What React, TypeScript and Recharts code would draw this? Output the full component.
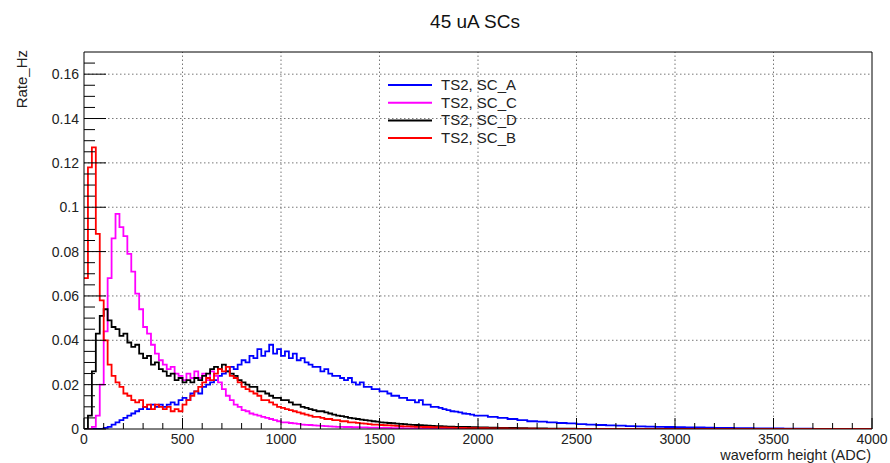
import React from 'react';
import { LineChart, Line, XAxis, YAxis, ReferenceLine } from 'recharts';

// ---------- data (bin lower edges in ADC, rate in Hz) ----------
// fine bins: 0..1980 step 20 ; tail bins: 2000..4000 step 50
const fineEdges: number[] = Array.from({ length: 100 }, (_, i) => i * 20);
const tailEdges: number[] = Array.from({ length: 41 }, (_, i) => 2000 + i * 50);

const scA_fine = [
  0, 0, 0, 0, 0, 0.0005, 0.001, 0.002, 0.003, 0.004,
  0.005, 0.006, 0.007, 0.008, 0.009, 0.010, 0.009, 0.011, 0.010, 0.011,
  0.010, 0.011, 0.012, 0.011, 0.013, 0.014, 0.013, 0.016, 0.017, 0.016,
  0.019, 0.020, 0.021, 0.022, 0.024, 0.025, 0.026, 0.028, 0.027, 0.029,
  0.031, 0.030, 0.033, 0.032, 0.036, 0.033, 0.035, 0.038, 0.034, 0.036,
  0.033, 0.035, 0.032, 0.034, 0.031, 0.032, 0.030, 0.029, 0.028, 0.028,
  0.026, 0.027, 0.025, 0.024, 0.024, 0.023, 0.022, 0.023, 0.021, 0.020,
  0.021, 0.019, 0.019, 0.018, 0.018, 0.017, 0.017, 0.016, 0.015, 0.015,
  0.014, 0.014, 0.013, 0.013, 0.012, 0.013, 0.011, 0.011, 0.010, 0.010,
  0.0095, 0.009, 0.0085, 0.008, 0.0078, 0.0075, 0.007, 0.0068, 0.0065, 0.006,
];
const scA_tail = [
  0.006, 0.0055, 0.005, 0.0045, 0.004, 0.0035, 0.0033, 0.003, 0.0027, 0.0025,
  0.0022, 0.002, 0.0018, 0.0016, 0.0015, 0.0013, 0.0012, 0.0011, 0.001, 0.0009,
  0.0008, 0.0007, 0.0007, 0.0006, 0.0005, 0.0005, 0.0004, 0.0004, 0.0003, 0.0003,
  0.0003, 0.0002, 0.0002, 0.0002, 0.0001, 0.0001, 0.0001, 0.0001, 0, 0, 0,
];

const scC_fine = [
  0, 0, 0.001, 0.006, 0.020, 0.044, 0.068, 0.086, 0.097, 0.091,
  0.087, 0.079, 0.071, 0.061, 0.054, 0.046, 0.043, 0.038, 0.034, 0.031,
  0.029, 0.027, 0.028, 0.025, 0.024, 0.022, 0.025, 0.023, 0.026, 0.023,
  0.025, 0.022, 0.026, 0.024, 0.021, 0.018, 0.015, 0.013, 0.011, 0.010,
  0.0085, 0.008, 0.007, 0.0065, 0.006, 0.0055, 0.005, 0.0045, 0.004, 0.0035,
  0.003, 0.003, 0.0027, 0.0025, 0.0023, 0.002, 0.0019, 0.0018, 0.0016, 0.0015,
  0.0014, 0.0013, 0.0012, 0.0011, 0.001, 0.001, 0.0009, 0.0009, 0.0008, 0.0008,
  0.0007, 0.0007, 0.0006, 0.0006, 0.0006, 0.0005, 0.0005, 0.0005, 0.0004, 0.0004,
  0.0004, 0.0003, 0.0003, 0.0003, 0.0003, 0.0003, 0.0003, 0.0002, 0.0002, 0.0002,
  0.0002, 0.0002, 0.0002, 0.0002, 0.0002, 0.0002, 0.0002, 0.0002, 0.0002, 0.0002,
];
const scC_tail = [
  0.0002, 0.0002, 0.0001, 0.0001, 0.0001, 0.0001, 0.0001, 0.0001, 0.0001, 0.0001,
  0.0001, 0.0001, 0, 0, 0, 0, 0, 0, 0, 0,
  0, 0, 0, 0, 0, 0, 0, 0, 0, 0,
  0, 0, 0, 0, 0, 0, 0, 0, 0, 0, 0,
];

const scD_fine = [
  0, 0.006, 0.026, 0.043, 0.051, 0.054, 0.049, 0.046, 0.045, 0.042,
  0.043, 0.039, 0.037, 0.038, 0.034, 0.032, 0.033, 0.029, 0.030, 0.027,
  0.026, 0.024, 0.025, 0.022, 0.023, 0.021, 0.022, 0.021, 0.023, 0.022,
  0.024, 0.025, 0.027, 0.028, 0.027, 0.029, 0.026, 0.025, 0.024, 0.022,
  0.021, 0.020, 0.019, 0.019, 0.017, 0.017, 0.016, 0.015, 0.014, 0.014,
  0.013, 0.013, 0.012, 0.011, 0.011, 0.010, 0.0095, 0.009, 0.0085, 0.008,
  0.008, 0.0075, 0.007, 0.0065, 0.006, 0.0058, 0.0055, 0.005, 0.0048, 0.0045,
  0.0042, 0.004, 0.0038, 0.0035, 0.0033, 0.003, 0.0029, 0.0027, 0.0026, 0.0024,
  0.0023, 0.0022, 0.002, 0.0019, 0.0018, 0.0017, 0.0016, 0.0015, 0.0014, 0.0013,
  0.0013, 0.0012, 0.0011, 0.0011, 0.001, 0.001, 0.0009, 0.0009, 0.0008, 0.0008,
];
const scD_tail = [
  0.0007, 0.0006, 0.0005, 0.0005, 0.0004, 0.0003, 0.0003, 0.0002, 0.0002, 0.0002,
  0.0001, 0.0001, 0.0001, 0.0001, 0.0001, 0, 0, 0, 0, 0,
  0, 0, 0, 0, 0, 0, 0, 0, 0, 0,
  0, 0, 0, 0, 0, 0, 0, 0, 0, 0, 0,
];

const scB_fine = [
  0.068, 0.118, 0.127, 0.088, 0.058, 0.040, 0.029, 0.024, 0.021, 0.019,
  0.016, 0.015, 0.013, 0.012, 0.013, 0.010, 0.011, 0.009, 0.011, 0.010,
  0.009, 0.010, 0.008, 0.009, 0.008, 0.011, 0.013, 0.015, 0.017, 0.019,
  0.021, 0.023, 0.022, 0.025, 0.027, 0.026, 0.028, 0.024, 0.023, 0.021,
  0.019, 0.018, 0.017, 0.016, 0.015, 0.013, 0.013, 0.012, 0.011, 0.010,
  0.0095, 0.009, 0.0085, 0.008, 0.0075, 0.007, 0.0065, 0.006, 0.0055, 0.0055,
  0.005, 0.0045, 0.0045, 0.004, 0.004, 0.0035, 0.0035, 0.003, 0.003, 0.0028,
  0.0025, 0.0024, 0.0022, 0.002, 0.002, 0.0018, 0.0017, 0.0016, 0.0015, 0.0014,
  0.0013, 0.0012, 0.0012, 0.0011, 0.001, 0.001, 0.0009, 0.0009, 0.0008, 0.0008,
  0.0007, 0.0007, 0.0006, 0.0006, 0.0005, 0.0005, 0.0005, 0.0004, 0.0004, 0.0004,
];
const scB_tail = [
  0.0004, 0.0003, 0.0003, 0.0002, 0.0002, 0.0002, 0.0001, 0.0001, 0.0001, 0.0001,
  0.0001, 0, 0, 0, 0, 0, 0, 0, 0, 0,
  0, 0, 0, 0, 0, 0, 0, 0, 0, 0,
  0, 0, 0, 0, 0, 0, 0, 0, 0, 0, 0,
];

const seriesNames = ['TS2, SC_A', 'TS2, SC_C', 'TS2, SC_D', 'TS2, SC_B'];
const seriesColors = ['#0000ff', '#ff00ff', '#000000', '#ff0000'];

const xMajorTicks = [0, 500, 1000, 1500, 2000, 2500, 3000, 3500, 4000];
const yMajorTicks = [0, 0.02, 0.04, 0.06, 0.08, 0.1, 0.12, 0.14, 0.16];
const xMinorTicks: number[] = Array.from({ length: 41 }, (_, i) => i * 100);
const yMinorTicks: number[] = Array.from({ length: 34 }, (_, i) => Math.round(i * 5) / 1000);

const title = '45 uA SCs';
const xTitle = 'waveform height (ADC)';
const yTitle = 'Rate_Hz';

const build = (fine: number[], tail: number[]) => [
  ...fine.map((v, i) => ({ x: fineEdges[i], y: v })),
  ...tail.map((v, i) => ({ x: tailEdges[i], y: v })),
];

const series = [
  build(scA_fine, scA_tail),
  build(scC_fine, scC_tail),
  build(scD_fine, scD_tail),
  build(scB_fine, scB_tail),
];

const FONT = '"Liberation Sans", Arial, Helvetica, sans-serif';

const isMajor = (v: number, step: number) => Math.abs(v / step - Math.round(v / step)) < 1e-6;

const XTick = (props: any) => {
  const { x, y, payload } = props;
  const v = payload.value;
  const major = xMajorTicks.includes(v);
  return (
    <g>
      <line x1={x} x2={x} y1={y} y2={y - (major ? 11 : 6)} stroke="#000" strokeWidth={1} />
      {major && (
        <text x={x} y={y + 15} textAnchor="middle" fontSize={14} fill="#222" fontFamily={FONT}>
          {v}
        </text>
      )}
    </g>
  );
};

const YTick = (props: any) => {
  const { x, y, payload } = props;
  const v = payload.value;
  const major = isMajor(v, 0.02);
  return (
    <g>
      <line x1={x} x2={x + (major ? 22 : 11)} y1={y} y2={y} stroke="#000" strokeWidth={1} />
      {major && (
        <text x={x - 5} y={y + 5} textAnchor="end" fontSize={14} fill="#222" fontFamily={FONT}>
          {String(Math.round(v * 1000) / 1000)}
        </text>
      )}
    </g>
  );
};

export default function App() {
  return (
    <div style={{ position: 'absolute', left: 0, top: 0, width: 890, height: 463, background: '#fff' }}>
      <LineChart width={890} height={463} margin={{ top: 52, right: 18, bottom: 0, left: 0 }}>
        <XAxis
          type="number"
          dataKey="x"
          domain={[0, 4000]}
          ticks={xMinorTicks}
          interval={0}
          height={34}
          tickSize={0}
          tickMargin={0}
          tickLine={false}
          axisLine={{ stroke: '#000', strokeWidth: 1 }}
          tick={<XTick />}
          allowDataOverflow
        />
        <YAxis
          type="number"
          domain={[0, 0.17]}
          ticks={yMinorTicks}
          interval={0}
          width={84}
          tickSize={0}
          tickMargin={0}
          tickLine={false}
          axisLine={{ stroke: '#000', strokeWidth: 1 }}
          tick={<YTick />}
          allowDataOverflow
        />
        {xMajorTicks.slice(1, -1).map((t) => (
          <ReferenceLine key={'gx' + t} x={t} stroke="#777" strokeDasharray="1.5 2.5" strokeWidth={1} />
        ))}
        {yMajorTicks.slice(1).map((t) => (
          <ReferenceLine key={'gy' + t} y={t} stroke="#777" strokeDasharray="1.5 2.5" strokeWidth={1} />
        ))}
        <ReferenceLine x={4000} stroke="#000" strokeWidth={1} />
        <ReferenceLine y={0.17} stroke="#000" strokeWidth={1} />
        {series.map((d, i) => (
          <Line
            key={seriesNames[i]}
            data={d}
            dataKey="y"
            name={seriesNames[i]}
            type="stepAfter"
            stroke={seriesColors[i]}
            strokeWidth={1.8}
            dot={false}
            activeDot={false}
            isAnimationActive={false}
          />
        ))}
      </LineChart>
      <svg
        width={890}
        height={463}
        style={{ position: 'absolute', left: 0, top: 0, pointerEvents: 'none' }}
      >
        <text x={475} y={28} textAnchor="middle" fontSize={19} fill="#111" fontFamily={FONT}>
          {title}
        </text>
        <text x={871} y={460} textAnchor="end" fontSize={14.5} fill="#222" fontFamily={FONT}>
          {xTitle}
        </text>
        <text
          x={27}
          y={50}
          textAnchor="end"
          fontSize={15}
          fill="#222"
          fontFamily={FONT}
          transform="rotate(-90 27 50)"
        >
          {yTitle}
        </text>
        {seriesNames.map((n, i) => (
          <g key={n}>
            <line x1={388} x2={432} y1={85 + i * 17.7} y2={85 + i * 17.7} stroke={seriesColors[i]} strokeWidth={2} />
            <text x={441} y={85 + i * 17.7 + 5} fontSize={15} fill="#222" fontFamily={FONT}>
              {n}
            </text>
          </g>
        ))}
      </svg>
    </div>
  );
}
